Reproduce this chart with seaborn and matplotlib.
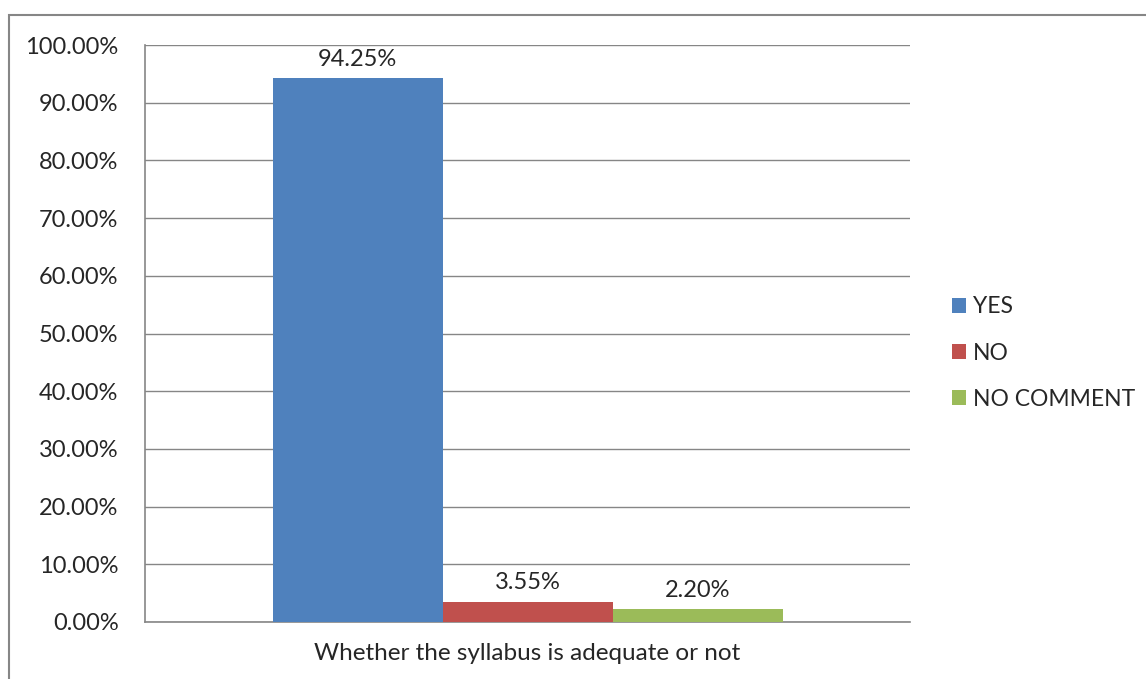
import matplotlib
matplotlib.use('Agg')
import matplotlib.pyplot as plt
import seaborn as sns
import pandas as pd
from matplotlib.ticker import PercentFormatter
from matplotlib.patches import Rectangle

category = ['Whether the syllabus is adequate or not']
responses = ['YES', 'NO', 'NO COMMENT']
percentages = [94.25, 3.55, 2.20]
bar_colors = ['#4F81BD', '#C0504D', '#9BBB59']

df = pd.DataFrame({'Question': category * 3, 'Response': responses, 'Percent': percentages})

sns.set_style('white')
plt.rcParams['font.family'] = ['Lato', 'DejaVu Sans']

fig = plt.figure(figsize=(11.46, 6.79), dpi=100)
ax = fig.add_axes([145 / 1146, 1 - 622 / 679, 765 / 1146, 577 / 679])

sns.barplot(data=df, x='Question', y='Percent', hue='Response', palette=bar_colors,
            width=2 / 3, gap=0, saturation=1, linewidth=0, ax=ax, zorder=3, legend=True)

for container, val in zip(ax.containers, percentages):
    ax.bar_label(container, labels=[f'{val:.2f}%'], padding=6, fontsize=17)

ax.set_ylim(0, 100)
ax.set_xlim(-0.5, 0.5)
ax.set_yticks(range(0, 101, 10))
ax.yaxis.set_major_formatter(PercentFormatter(decimals=2))
ax.grid(axis='y', color='#868686', linewidth=1, zorder=0)
ax.set_xticks([-0.5, 0.5])
ax.set_xticklabels(['', ''])
ax.set_xticks([0], minor=True)
ax.set_xticklabels(category, minor=True)
ax.tick_params(axis='x', which='minor', length=0, pad=15, labelsize=17.5)
ax.tick_params(axis='x', which='major', length=5, color='#868686', direction='out')
ax.tick_params(axis='y', length=11, color='#868686', direction='out', labelsize=17, pad=8)
ax.set_xlabel('')
ax.set_ylabel('')

for side in ['top', 'right']:
    ax.spines[side].set_visible(False)
for side in ['left', 'bottom']:
    ax.spines[side].set_color('#868686')
    ax.spines[side].set_linewidth(1.2)

leg = ax.legend(loc='center left', bbox_to_anchor=(1.028, 0.466), frameon=False,
                fontsize=16.5, handlelength=0.6, handleheight=0.6, handletextpad=0.3,
                labelspacing=1.1)

fig.patches.append(Rectangle((9 / 1146, -0.1), 1.2, 1 - 15 / 679 + 0.1,
                             transform=fig.transFigure, fill=False,
                             edgecolor='#868686', linewidth=1.5))

fig.savefig('out.png', dpi=100)
